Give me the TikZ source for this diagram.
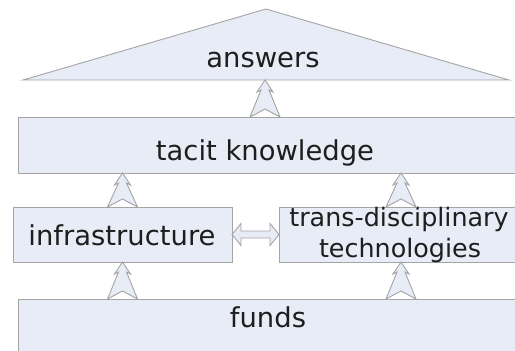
\documentclass[tikz,border=0pt]{standalone}
\usepackage{fontspec}
\setmainfont{DejaVu Sans}
\definecolor{boxfill}{HTML}{E8ECF6}
\definecolor{boxline}{HTML}{A4A4A4}
\definecolor{txt}{HTML}{1E1E1E}
\tikzset{
  box/.style={draw=boxline, fill=boxfill, line width=0.9bp, inner sep=0pt, outer sep=0pt},
  lbl/.style={anchor=base, inner sep=0pt, text=txt, font=\fontsize{27.5}{32}\selectfont},
  lblsmall/.style={lbl, font=\fontsize{25.5}{30}\selectfont},
  arrshape/.style={draw=boxline, fill=boxfill, line width=0.9bp, line join=miter},
  pics/uarr/.style={code={
    \draw[arrshape] (0,0) -- (8,12) -- (4,10) -- (15,#1) -- (0,{#1-8}) -- (-15,#1) -- (-4,10) -- (-8,12) -- cycle;
  }}
}
\begin{document}
\begin{tikzpicture}[x=1bp, y=-1bp]
\useasboundingbox (0,0) rectangle (515,350);
\clip (0,0) rectangle (515,350);
% triangle
\coordinate (apex) at (266,9);
\coordinate (tl) at (23,80);
\coordinate (tr) at (509,80);
\coordinate (tribase) at (265,80);
\draw[box] (tl) -- (apex) -- (tr) -- cycle;
% boxes
\node[box, minimum width=498bp, minimum height=56bp] (tacit) at (267,145) {};
\node[box, minimum width=219bp, minimum height=55bp] (infra) at (122.5,234.5) {};
\node[box, minimum width=244bp, minimum height=55bp] (trans) at (401,234.5) {};
\node[box, minimum width=498bp, minimum height=56bp] (funds) at (267,327) {};
% labels
\node[lbl] (tanswers) at (263,67) {answers};
\node[lbl] (ttacit) at (265,160) {tacit knowledge};
\node[lbl] (tinfra) at (122,245) {infrastructure};
\node[lblsmall] (ttrans1) at (399,226) {trans-disciplinary};
\node[lblsmall] (ttrans2) at (400,257) {technologies};
\node[lbl] (tfunds) at (268,327) {funds};
% up arrows
\pic at (tribase) {uarr=37};
\pic at (tacit.south -| infra.north) {uarr=34};
\pic at (tacit.south -| trans.north) {uarr=34};
\pic at (infra.south) {uarr=37};
\pic at (trans.south) {uarr=37};
% double arrow
\draw[arrshape] (infra.east) -- ++(9,-11) -- ++(0,7.5) -- ++(29,0) -- ++(0,-7.5) -- (trans.west) -- ++(-9,11) -- ++(0,-7.5) -- ++(-29,0) -- ++(0,7.5) -- cycle;
\end{tikzpicture}
\end{document}
